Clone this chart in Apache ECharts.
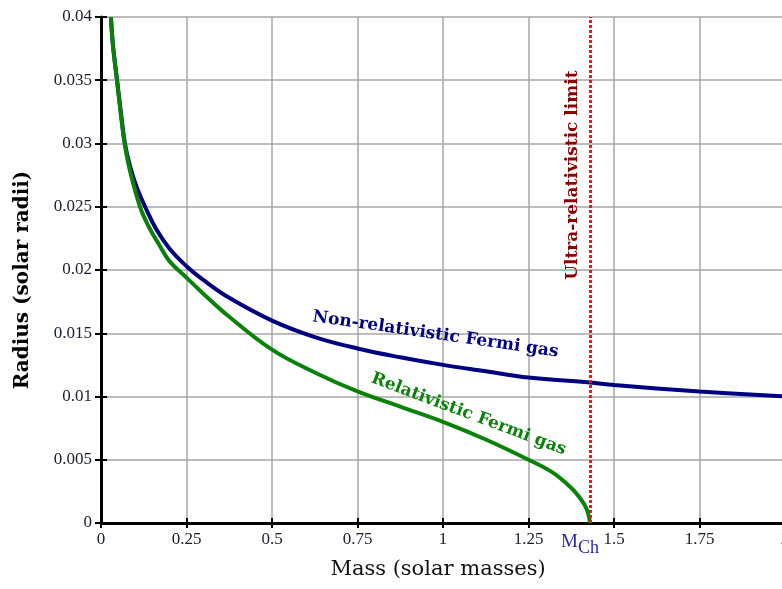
<!DOCTYPE html>
<html>
<head>
<meta charset="utf-8">
<script src="https://cdn.jsdelivr.net/npm/echarts@6/dist/echarts.min.js"></script>
<style>
  html, body { margin: 0; padding: 0; background: #fff; }
  #chart { width: 782px; height: 589px; }
</style>
</head>
<body>
<div id="chart"></div>
<script>
  // Non-relativistic Fermi gas
  var massNonRel = [0.029, 0.035, 0.047, 0.058, 0.07, 0.085, 0.105, 0.129, 0.16, 0.2, 0.25, 0.3, 0.375, 0.5, 0.625, 0.75, 0.875, 1.0, 1.125, 1.25, 1.43, 1.5, 1.75, 2.0];
  var radiusNonRel = [0.04, 0.0378, 0.035, 0.0325, 0.03, 0.0282, 0.0265, 0.025, 0.0233, 0.0217, 0.0203, 0.0192, 0.0178, 0.016, 0.0147, 0.0138, 0.0131, 0.0125, 0.012, 0.0115, 0.0111, 0.0109, 0.0104, 0.01];

  // Relativistic Fermi gas
  var massRel = [0.029, 0.035, 0.047, 0.058, 0.07, 0.085, 0.114, 0.14, 0.17, 0.2, 0.25, 0.3, 0.375, 0.5, 0.625, 0.75, 0.875, 1.0, 1.125, 1.25, 1.32, 1.37, 1.4, 1.42, 1.43];
  var radiusRel = [0.04, 0.0377, 0.0349, 0.0323, 0.0298, 0.0278, 0.025, 0.0234, 0.022, 0.0207, 0.0194, 0.0181, 0.0163, 0.0137, 0.0119, 0.0104, 0.0092, 0.008, 0.0066, 0.005, 0.004, 0.0029, 0.002, 0.0011, 0];

  var chandraMass = 1.43;

  // text labels: [mass, radius] anchor, rotation in degrees
  var labelNonRel = { text: 'Non-relativistic Fermi gas', at: [0.978, 0.0149], rot: -8.2, color: '#000080' };
  var labelRel = { text: 'Relativistic Fermi gas', at: [1.075, 0.0086], rot: -20.5, color: '#0a820a' };
  var labelLimit = { text: 'Ultra-relativistic limit', at: [1.38, 0.0275], rot: 90, color: '#8b0000' };

  function pairs(xs, ys) {
    var out = [];
    for (var i = 0; i < xs.length; i++) out.push([xs[i], ys[i]]);
    return out;
  }

  var serif = '"Liberation Serif", serif';
  var wideSerif = '"DejaVu Serif", serif';
  var chart = echarts.init(document.getElementById('chart'));

  var gridLine = { show: true, lineStyle: { color: '#a6a6a6', width: 1.5 } };

  var option = {
    backgroundColor: '#fff',
    animation: false,
    grid: { left: 101, top: 17, width: 684, height: 506, outerBoundsMode: 'none' },
    xAxis: [{
      type: 'value', min: 0, max: 2, interval: 0.25,
      name: 'Mass (solar masses)', nameLocation: 'middle', nameGap: 36,
      nameTextStyle: { fontFamily: wideSerif, fontSize: 21, color: '#111', padding: [0, 10, 0, 0] },
      axisLine: { show: true, onZero: false, lineStyle: { color: '#000', width: 3 } },
      axisTick: { show: true, inside: true, length: 5, lineStyle: { color: '#000', width: 2 } },
      axisLabel: { fontFamily: serif, fontSize: 17, color: '#1c1c30', margin: 8 },
      splitLine: gridLine
    }, {
      type: 'value', position: 'top', min: 0, max: 2, interval: 0.25,
      axisLine: { show: true, lineStyle: { color: '#000', width: 2 } },
      axisTick: { show: true, inside: true, length: 5, lineStyle: { color: '#000', width: 2 } },
      axisLabel: { show: false }, splitLine: { show: false }
    }],
    yAxis: [{
      type: 'value', min: 0, max: 0.04, interval: 0.005,
      name: 'Radius (solar radii)', nameLocation: 'middle', nameGap: 68, nameRotate: 90,
      nameTextStyle: { fontFamily: wideSerif, fontSize: 20, fontWeight: 'bold', color: '#000', padding: [0, 20, 0, 0] },
      axisLine: { show: true, onZero: false, lineStyle: { color: '#000', width: 3 } },
      axisTick: { show: true, inside: true, length: 6, lineStyle: { color: '#000', width: 2 } },
      axisLabel: { fontFamily: serif, fontSize: 17, color: '#1c1c30', margin: 9 },
      splitLine: gridLine
    }, {
      type: 'value', position: 'right', min: 0, max: 0.04, interval: 0.005,
      axisLine: { show: true, lineStyle: { color: '#000', width: 2 } },
      axisTick: { show: true, inside: true, length: 6, lineStyle: { color: '#000', width: 2 } },
      axisLabel: { show: false }, splitLine: { show: false }
    }],
    series: [{
      name: 'Non-relativistic Fermi gas',
      type: 'line',
      data: pairs(massNonRel, radiusNonRel),
      smooth: 0.4,
      showSymbol: false,
      lineStyle: { color: '#000080', width: 4 },
      z: 3
    }, {
      name: 'Relativistic Fermi gas',
      type: 'line',
      data: pairs(massRel, radiusRel),
      smooth: 0.4,
      showSymbol: false,
      lineStyle: { color: '#0a820a', width: 4 },
      z: 4,
      markLine: {
        silent: true,
        symbol: 'none',
        lineStyle: { color: '#ff1010', type: [3, 2], width: 3 },
        label: {
          show: true,
          position: 'start',
          distance: 4,
          offset: [-10, 0],
          formatter: '{m|M}{s|Ch}',
          rich: {
            m: { fontFamily: serif, fontSize: 19, color: '#2b2ba0' },
            s: { fontFamily: serif, fontSize: 18, color: '#2b2ba0', padding: [12, 0, 0, 0] }
          }
        },
        data: [{ xAxis: chandraMass }]
      }
    }]
  };

  chart.setOption(option);

  var labels = [labelNonRel, labelRel, labelLimit];
  var graphics = labels.map(function (l) {
    var p = chart.convertToPixel({ gridIndex: 0 }, l.at);
    return {
      type: 'text',
      x: p[0], y: p[1],
      rotation: l.rot * Math.PI / 180,
      z: 10,
      style: {
        text: l.text,
        fill: l.color,
        font: 'bold 17px ' + wideSerif,
        align: 'center',
        verticalAlign: 'middle'
      }
    };
  });
  chart.setOption({ graphic: graphics });
</script>
</body>
</html>
